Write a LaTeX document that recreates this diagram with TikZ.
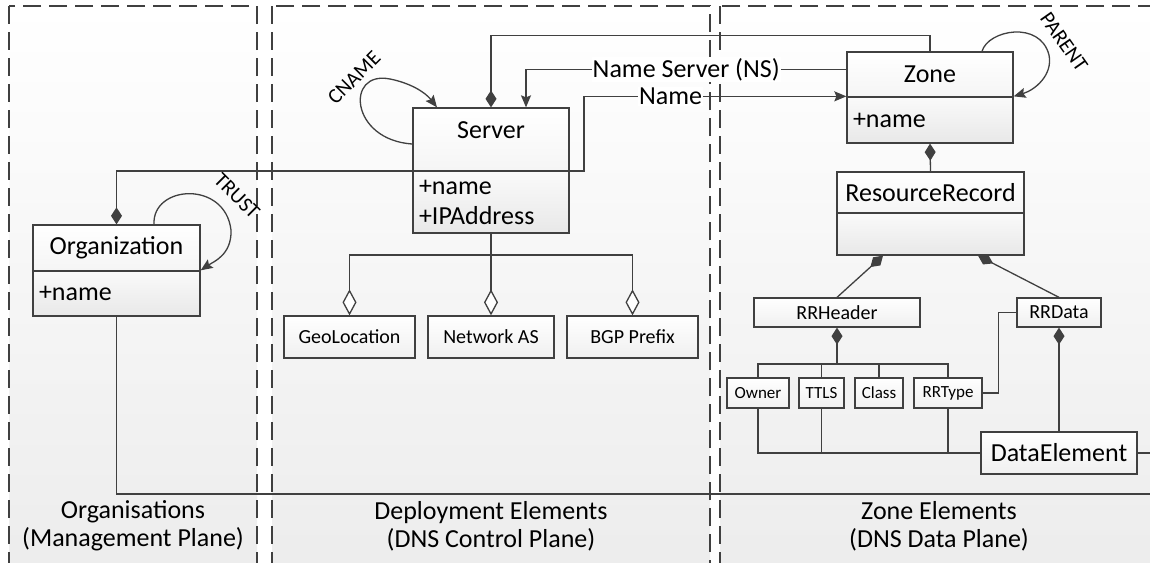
\documentclass[tikz,border=0pt]{standalone}
\usepackage{fontspec}
\setmainfont{Carlito}
\usetikzlibrary{arrows.meta}
\definecolor{linegray}{HTML}{404040}
\definecolor{panelgray}{HTML}{ECECEC}

\begin{document}
\begin{tikzpicture}[x=1pt, y=-1pt,
    conn/.style={draw=linegray, line width=1.3pt},
    panel/.style={draw=linegray, line width=1.6pt, dash pattern=on 18pt off 8pt, top color=white, bottom color=panelgray},
    clshead/.style={conn, top color=white, bottom color=black!4, inner sep=0pt, font=\fontsize{26}{28}\selectfont},
    clsbody/.style={conn, top color=black!2, bottom color=black!9, inner xsep=6pt, inner ysep=0pt, align=left, font=\fontsize{26}{30}\selectfont},
    leafbox/.style={conn, top color=white, bottom color=black!6, inner sep=0pt, font=\fontsize{20}{22}\selectfont},
    smallbox/.style={leafbox, minimum height=30pt, font=\fontsize{17}{19}\selectfont},
    lbl/.style={fill=white, inner sep=1pt, font=\fontsize{26}{28}\selectfont},
    looplbl/.style={inner sep=1pt, font=\fontsize{21}{23}\selectfont},
    planelbl/.style={align=center, font=\fontsize{26}{28}\selectfont},
    diam/.tip={Diamond[length=17pt, width=11pt]},
    odiam/.tip={Diamond[length=26pt, width=14pt, fill=white]},
    arr/.tip={Stealth[length=12pt, width=10pt, inset=2pt]}]
    % Frame
    \useasboundingbox (0,0) rectangle (1150,562);
    \clip (0,0) rectangle (1150,562);
    \fill[white] (0,0) rectangle (1150,562);
    % Planes
    \draw[panel] (9,6) rectangle (257,580);
    \draw[panel] (272,6) rectangle (710,580);
    \draw[panel] (720,6) rectangle (1170,580);

    % Organisation
    \node[clshead, minimum width=167pt, minimum height=46pt] (orghead) at (116.5,248) {Organization};
    \node[clsbody, minimum height=45pt, text width=155pt] (orgbody) at (116.5,293.5) {+name};
    % Server
    \node[clshead, minimum width=156pt, minimum height=63pt, text depth=18pt] (srvhead) at (491,139.5) {Server};
    \node[clsbody, minimum height=62pt, text width=144pt] (srvbody) at (491,202) {+name\\+IPAddress};
    % Zone
    \node[clshead, minimum width=166pt, minimum height=45pt] (zonehead) at (930,74.5) {Zone};
    \node[clsbody, minimum height=46pt, text width=154pt] (zonebody) at (930,120) {+name};
    % Resource record
    \node[clshead, minimum width=187pt, minimum height=41pt] (rrhead) at (930.5,192.5) {ResourceRecord};
    \node[clsbody, minimum height=42pt, text width=175pt] (rrbody) at (930.5,234) {};

    % Deployment elements
    \node[leafbox, minimum width=131pt, minimum height=42pt] (geo) at (349.5,337) {GeoLocation};
    \node[leafbox, minimum width=126pt, minimum height=42pt] (netas) at (491,337) {Network AS};
    \node[leafbox, minimum width=131pt, minimum height=42pt] (bgp) at (632.5,337) {BGP Prefix};

    % Record parts
    \node[leafbox, minimum width=166pt, minimum height=29pt] (rrhdr) at (837,312.5) {RRHeader};
    \node[leafbox, minimum width=84pt, minimum height=29pt] (rrdata) at (1059,312.5) {RRData};
    \node[smallbox, minimum width=62pt] (owner) at (758,393) {Owner};
    \node[smallbox, minimum width=45pt] (ttls) at (821.5,393) {TTLS};
    \node[smallbox, minimum width=48pt] (rrclass) at (879,393) {Class};
    \node[smallbox, minimum width=68pt] (rrtype) at (948,393) {RRType};
    \node[leafbox, minimum width=156pt, minimum height=42pt, font=\fontsize{26}{28}\selectfont] (dataelem) at (1059,453) {DataElement};

    % Free ends and joins
    \path (491,255) coordinate (srvjoin);
    \path (837,364) coordinate (hdrjoin);
    \path (1150,453) coordinate (edgeR);
    \path (1150,494) coordinate (edgeB);

    % Server relations
    \draw[conn, {diam}-] (srvhead.north) -- ++(0,-72) -| (zonehead.north);
    \draw[conn, -{arr}] ([yshift=5pt]zonehead.west) -| ([xshift=35pt]srvhead.north) node[lbl, pos=0.25] {Name Server (NS)};
    \draw[conn, {diam}-{arr}] (orghead.north) |- (584,171) |- (zonebody.north west) node[lbl, pos=0.665] {Name};
    \draw[conn, -{odiam}] (srvbody.south) -- (netas.north);
    \draw[conn, -{odiam}] (srvjoin) -| (geo.north);
    \draw[conn, -{odiam}] (srvjoin) -| (bgp.north);

    % Self loops
    \draw[conn, -{arr}] ([yshift=-4.5pt]srvhead.west) .. controls (350,140) and (345,70) .. (390,79) .. controls (410,83) and (425,92) .. ([xshift=-54pt]srvhead.north);
    \node[looplbl, rotate=45] (cname) at (354,78) {CNAME};
    \draw[conn, -{arr}] ([xshift=37.5pt]orghead.north) .. controls (152,185) and (225,180) .. (231,230) .. controls (232,255) and (213,262) .. (orgbody.north east);
    \node[looplbl, rotate=-45] (trust) at (237,196) {TRUST};
    \draw[conn, -{arr}] ([xshift=52pt]zonehead.north) .. controls (988,30) and (1040,20) .. (1049,55) .. controls (1053,75) and (1035,90) .. (zonebody.north east);
    \node[looplbl, rotate=-55] (parent) at (1064,42) {PARENT};

    % Zone contents
    \draw[conn, -{diam}] (rrhead.north) -- (zonebody.south);
    \draw[conn, -{diam}] (rrhdr.north) -- ([xshift=-47.5pt]rrbody.south);
    \draw[conn, -{diam}] (rrdata.north) -- ([xshift=47.5pt]rrbody.south);
    \draw[conn, -{diam}] (hdrjoin) -- (rrhdr.south);
    \draw[conn] (owner.north) |- (hdrjoin) -| (rrtype.north);
    \draw[conn] (ttls.north) -- (ttls.north |- hdrjoin);
    \draw[conn] (rrclass.north) -- (rrclass.north |- hdrjoin);
    \draw[conn] (rrtype.east) -- ++(16,0) |- (rrdata.west);
    \draw[conn, -{diam}] (dataelem.north) -- (rrdata.south);
    \draw[conn] (owner.south) |- (dataelem.west);
    \draw[conn] (ttls.south) -- (ttls.south |- dataelem.west);
    \draw[conn] (rrtype.south) -- (rrtype.south |- dataelem.west);
    \draw[conn] (dataelem.east) -- (edgeR);
    \draw[conn] (orgbody.south) |- (edgeB);

    % Plane titles
    \node[planelbl] (orgplane) at (133,526) {Organisations\\(Management Plane)};
    \node[planelbl] (depplane) at (491,526) {Deployment Elements\\(DNS Control Plane)};
    \node[planelbl] (zoneplane) at (939,526) {Zone Elements\\(DNS Data Plane)};
\end{tikzpicture}
\end{document}
